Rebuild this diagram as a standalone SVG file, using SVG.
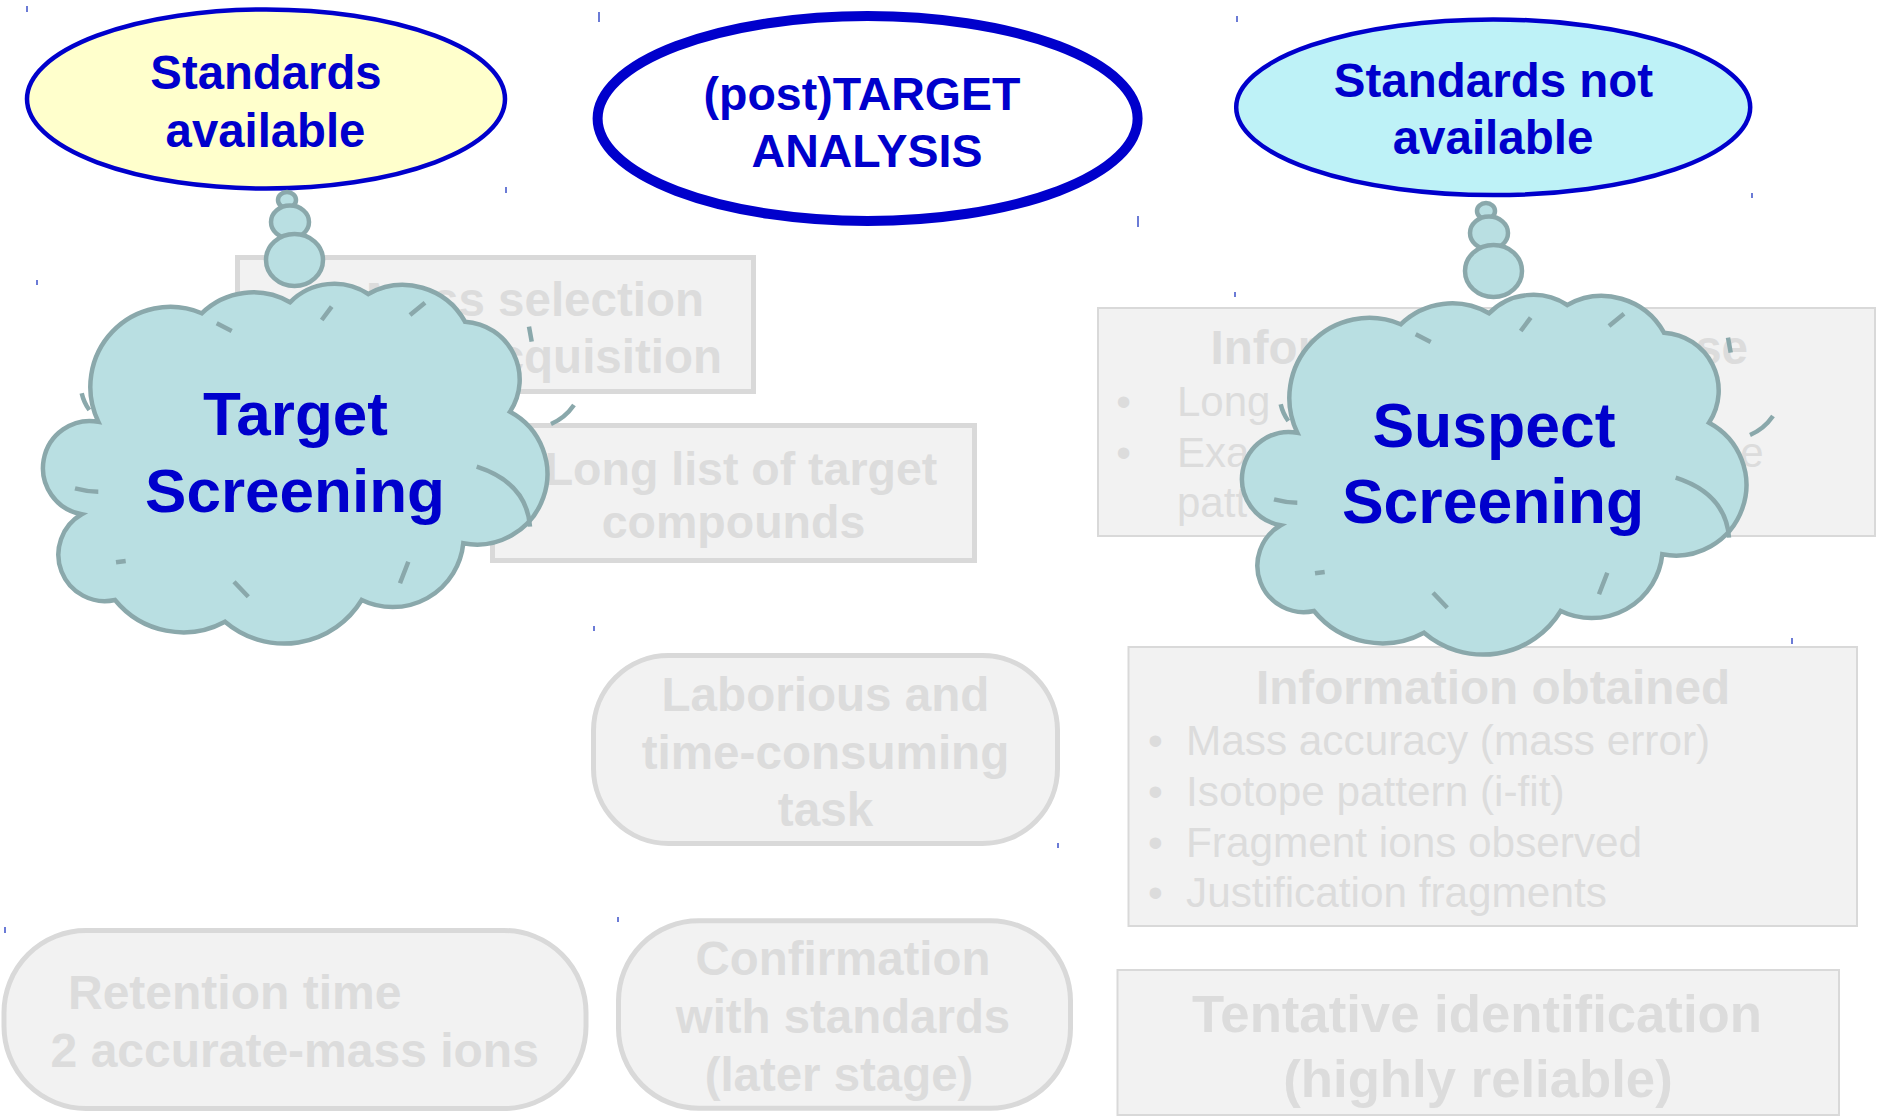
<svg xmlns="http://www.w3.org/2000/svg" xmlns:xlink="http://www.w3.org/1999/xlink" width="1883" height="1117" viewBox="0 0 1883 1117">
<style>
  text { font-family: "Liberation Sans", Arial, sans-serif; }
  .blue { font-weight: bold; fill: #0000CC; text-anchor: middle; }
  .gb { font-weight: bold; fill: #DCDCDC; }
  .gr { font-weight: normal; fill: #DCDCDC; }
  .mid { text-anchor: middle; }
  .end { text-anchor: end; }
  .box { fill: #F2F2F2; stroke: #D9D9D9; }
  .thick { stroke-width: 5; }
  .thin { stroke-width: 2; }
  .cloud { fill: #B9DFE2; stroke: #8AA8AB; stroke-width: 4.5; }
  .dash { fill: none; stroke: #8AA8AB; stroke-width: 4.5; }
  .tick { stroke: #3A4FC8; stroke-width: 1.5; }
</style>
<defs>
  <g id="cloud-shape">
    <path class="cloud" d="M98.3 421.7 A80 80 0 0 1 201.7 313.3 A73.5 73.5 0 0 1 290 302.3 A62 62 0 0 1 368.3 294 A71 71 0 0 1 465 321.7 A58 58 0 0 1 510 411.7 A70.6 70.6 0 0 1 463.3 543.3 A71 71 0 0 1 361.7 600 A90.8 90.8 0 0 1 225 621.7 A88 88 0 0 1 115 600 A46.5 46.5 0 0 1 81.7 514.3 A47 47 0 0 1 98.3 421.7 Z"/>
    <path class="dash" d="M216.7 323.3 L231.7 331 M321.7 320 L331.7 306.7 M410 315 L425 302.7 M529 326.7 L531.7 341.7 M551 424 Q565 418 574 405 M476.7 466.7 Q527 483 530 526.7 M408.3 561.7 L400 583.3 M234 581.7 L248.3 596.7 M116 562.3 L125.7 561 M75 488.3 Q87 491.5 98.3 491.7 M81.7 393.3 Q84 403 89.3 410"/>
  </g>
  <g id="bubbles">
    <ellipse class="cloud" cx="287" cy="200" rx="9" ry="8"/>
    <ellipse class="cloud" cx="290" cy="222" rx="19" ry="16.5"/>
    <ellipse class="cloud" cx="294.5" cy="260" rx="28.5" ry="26"/>
  </g>
</defs>

<g id="ticks">
  <line class="tick" x1="27" y1="6" x2="27" y2="12"/>
  <line class="tick" x1="37" y1="280" x2="37" y2="285"/>
  <line class="tick" x1="506" y1="187" x2="506" y2="193"/>
  <line class="tick" x1="599" y1="12" x2="599" y2="22"/>
  <line class="tick" x1="1138" y1="216" x2="1138" y2="227"/>
  <line class="tick" x1="1237" y1="16" x2="1237" y2="22"/>
  <line class="tick" x1="1752" y1="193" x2="1752" y2="198"/>
  <line class="tick" x1="1235" y1="292" x2="1235" y2="297"/>
  <line class="tick" x1="1792" y1="638" x2="1792" y2="644"/>
  <line class="tick" x1="594" y1="626" x2="594" y2="631"/>
  <line class="tick" x1="1058" y1="843" x2="1058" y2="848"/>
  <line class="tick" x1="5" y1="927" x2="5" y2="933"/>
  <line class="tick" x1="618" y1="917" x2="618" y2="922"/>
</g>

<g id="node-mass-selection">
  <rect class="box thick" x="237.5" y="257.5" width="516" height="134"/>
  <text class="gb end" x="704" y="316" font-size="47.5">Mass selection</text>
  <text class="gb end" x="722" y="373" font-size="47.5">acquisition</text>
</g>

<g id="node-long-list">
  <rect class="box thick" x="492.5" y="425.5" width="482" height="135"/>
  <text class="gb mid" x="741" y="485" font-size="46.5">Long list of target</text>
  <text class="gb mid" x="733.5" y="538" font-size="46.5">compounds</text>
</g>

<g id="node-info-database">
  <rect class="box thin" x="1098" y="308" width="777" height="228"/>
  <text class="gb" x="1210.6" y="364" font-size="47.5">Infor</text>
  <text class="gb end" x="1748" y="364" font-size="47.5">se</text>
  <text class="gr mid" x="1123.5" y="416" font-size="42">•</text>
  <text class="gr" x="1177" y="416" font-size="42">Long</text>
  <text class="gr mid" x="1123.5" y="466.7" font-size="42">•</text>
  <text class="gr" x="1177" y="466.7" font-size="42">Exa</text>
  <text class="gr end" x="1763.6" y="466.7" font-size="42">e</text>
  <text class="gr" x="1177" y="517" font-size="42">patt</text>
</g>

<g id="node-info-obtained">
  <rect class="box thin" x="1128.5" y="647" width="728.5" height="279"/>
  <text class="gb mid" x="1493" y="704" font-size="47.7">Information obtained</text>
  <g font-size="42.3">
    <text class="gr mid" x="1155.5" y="755">•</text>
    <text class="gr" x="1186" y="755">Mass accuracy (mass error)</text>
    <text class="gr mid" x="1155.5" y="806">•</text>
    <text class="gr" x="1186" y="806">Isotope pattern (i-fit)</text>
    <text class="gr mid" x="1155.5" y="857.3">•</text>
    <text class="gr" x="1186" y="857.3">Fragment ions observed</text>
    <text class="gr mid" x="1155.5" y="907.3">•</text>
    <text class="gr" x="1186" y="907.3">Justification fragments</text>
  </g>
</g>

<g id="node-laborious">
  <rect class="box thick" x="593.5" y="655.5" width="464" height="188" rx="75" ry="75"/>
  <g font-size="47.6">
    <text class="gb mid" x="825.5" y="710.7">Laborious and</text>
    <text class="gb mid" x="825.5" y="769">time-consuming</text>
    <text class="gb mid" x="825.5" y="825.7">task</text>
  </g>
</g>

<g id="node-retention">
  <rect class="box thick" x="4" y="930.5" width="582" height="178" rx="82" ry="82"/>
  <text class="gb" x="68" y="1009" font-size="48">Retention time</text>
  <text class="gb" x="50.6" y="1066.7" font-size="48">2 accurate-mass ions</text>
</g>

<g id="node-confirmation">
  <rect class="box thick" x="618.5" y="920.8" width="452" height="187.5" rx="80" ry="80"/>
  <g font-size="47.4">
    <text class="gb mid" x="843" y="975">Confirmation</text>
    <text class="gb mid" x="843" y="1033.3">with standards</text>
    <text class="gb mid" x="839" y="1091">(later stage)</text>
  </g>
</g>

<g id="node-tentative">
  <rect class="box thin" x="1117.5" y="970" width="721.5" height="145"/>
  <text class="gb mid" x="1477" y="1032" font-size="52.7">Tentative identification</text>
  <text class="gb mid" x="1478" y="1096.7" font-size="52.7">(highly reliable)</text>
</g>

<g id="node-standards-available">
  <ellipse cx="266" cy="99" rx="239" ry="89.5" fill="#FFFFCC" stroke="#0000CC" stroke-width="4.5"/>
  <text class="blue" x="266" y="88.5" font-size="47.3">Standards</text>
  <text class="blue" x="265.5" y="146.7" font-size="47.3">available</text>
</g>

<g id="node-post-target">
  <ellipse cx="867.6" cy="118.5" rx="270" ry="102.5" fill="#FFFFFF" stroke="#0000CC" stroke-width="10"/>
  <text class="blue" x="862" y="110" font-size="46.5">(post)TARGET</text>
  <text class="blue" x="867" y="166.7" font-size="46.5">ANALYSIS</text>
</g>

<g id="node-standards-not-available">
  <ellipse cx="1493.2" cy="107.3" rx="257" ry="87.8" fill="#BEF2F7" stroke="#0000CC" stroke-width="4.5"/>
  <text class="blue" x="1493.5" y="97.3" font-size="47.5">Standards not</text>
  <text class="blue" x="1493" y="154" font-size="47.5">available</text>
</g>

<g id="connectors">
  <use xlink:href="#bubbles" href="#bubbles"/>
  <use xlink:href="#bubbles" href="#bubbles" transform="translate(1199,11)"/>
</g>

<g id="node-target-screening">
  <use xlink:href="#cloud-shape" href="#cloud-shape"/>
  <text class="blue" x="295.5" y="435" font-size="62">Target</text>
  <text class="blue" x="295" y="512.3" font-size="62">Screening</text>
</g>

<g id="node-suspect-screening">
  <use xlink:href="#cloud-shape" href="#cloud-shape" transform="translate(1199,11)"/>
  <text class="blue" x="1494" y="446.7" font-size="62.5">Suspect</text>
  <text class="blue" x="1493" y="523.3" font-size="62.5">Screening</text>
</g>
</svg>
